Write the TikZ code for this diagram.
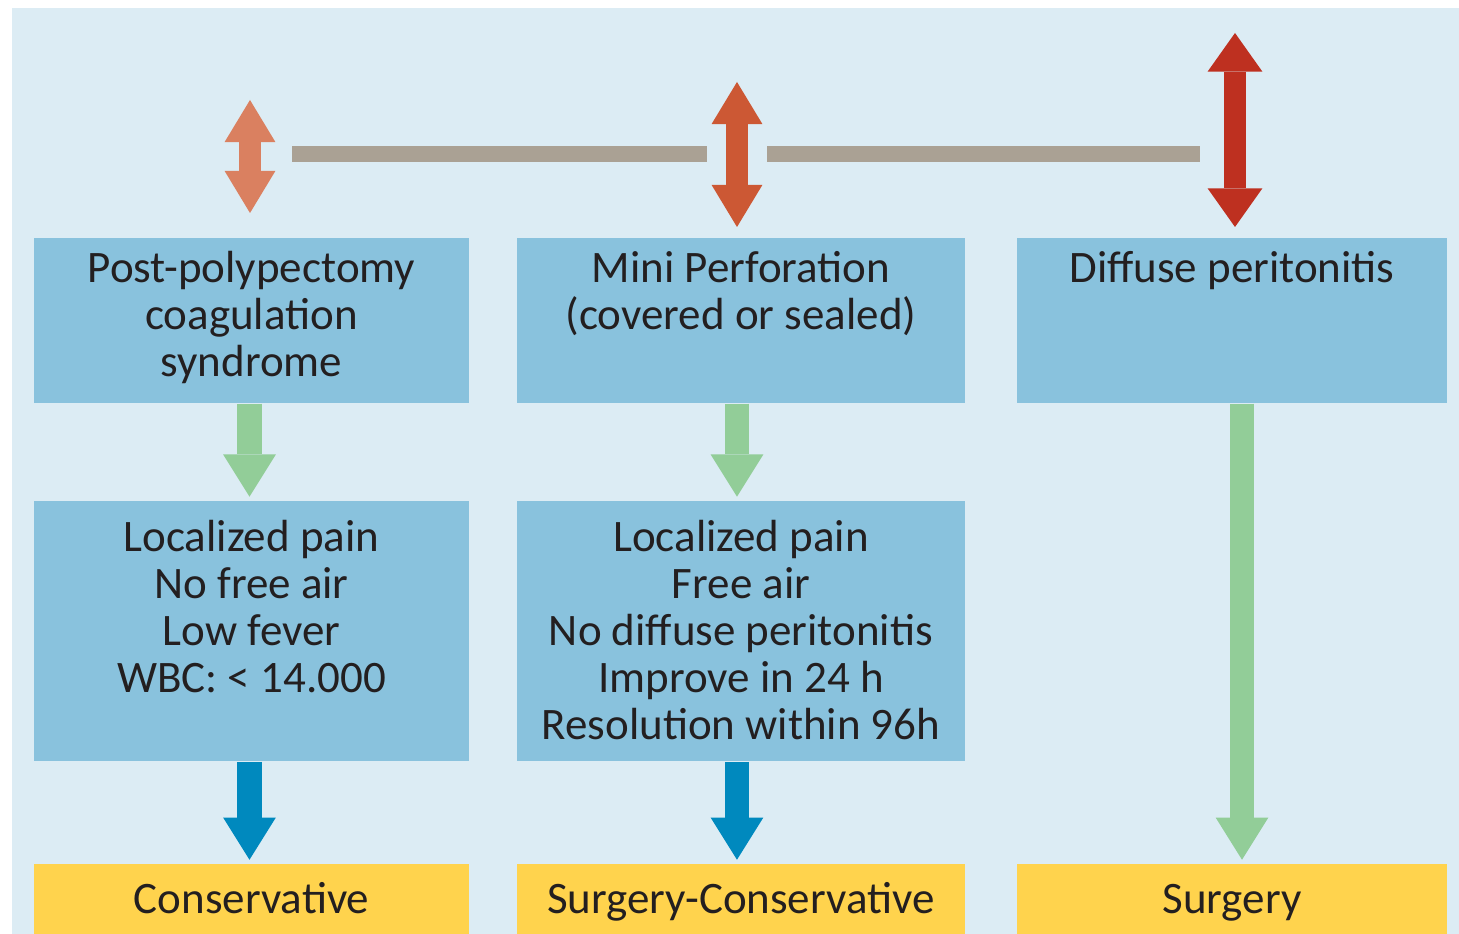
\documentclass[tikz,border=0pt]{standalone}
\usepackage{fontspec}
\setmainfont{Carlito}
\usepackage{xcolor}
\definecolor{bgBlue}{RGB}{220,236,244}
\definecolor{boxBlue}{RGB}{137,194,221}
\definecolor{txYellow}{RGB}{255,211,77}
\definecolor{flowGreen}{RGB}{146,205,152}
\definecolor{flowBlue}{RGB}{0,137,190}
\definecolor{barGray}{RGB}{170,161,148}
\definecolor{sevLow}{RGB}{218,128,96}
\definecolor{sevMid}{RGB}{204,88,52}
\definecolor{sevHigh}{RGB}{190,48,32}
\definecolor{inkDark}{RGB}{35,31,32}
\usepackage{tikz}
\usetikzlibrary{arrows.meta,positioning,calc}
\newcommand{\boxfont}{\fontsize{12.8}{13.4}\selectfont}
\tikzstyle{dxbox}=[fill=boxBlue, minimum height=1.65cm, inner sep=0pt]
\tikzstyle{clbox}=[fill=boxBlue, minimum height=2.6cm, inner sep=0pt]
\tikzstyle{txbox}=[fill=txYellow, minimum height=0.7cm, inner sep=0pt, text height=8.2pt, text depth=0pt, font=\boxfont, text=inkDark]
\tikzstyle{boxtext}=[anchor=north, align=center, inner sep=0pt, font=\boxfont, text=inkDark]
\tikzstyle{flow}=[line width=7pt, shorten >=1pt, -{Triangle[width=15pt,length=12pt,line width=0pt]}]
\tikzstyle{sev}=[line width=6.4pt, {Triangle[width=14.5pt,length=12pt,line width=0pt]}-{Triangle[width=14.5pt,length=12pt,line width=0pt]}]

\begin{document}
\begin{tikzpicture}[x=0.01cm,y=-0.01cm]
  \useasboundingbox (0,0) rectangle (1459,934);
  \fill[bgBlue] (12,8) rectangle (1459,934);

  % diagnosis row
  \node[dxbox, minimum width=4.35cm, label={[boxtext,yshift=-0.13cm]north:{Post-polypectomy\\coagulation\\syndrome}}] (dx1) at (251.5,320.5) {};
  \node[dxbox, minimum width=4.48cm, label={[boxtext,yshift=-0.13cm]north:{Mini Perforation\\(covered or sealed)}}] (dx2) at (741,320.5) {};
  \node[dxbox, minimum width=4.30cm, label={[boxtext,yshift=-0.13cm]north:{Diffuse peritonitis}}] (dx3) at (1232,320.5) {};

  % clinical findings
  \node[clbox, minimum width=4.35cm, label={[boxtext,yshift=-0.19cm]north:{Localized pain\\No free air\\Low fever\\WBC: < 14.000}}] (cl1) at (251.5,631) {};
  \node[clbox, minimum width=4.48cm, label={[boxtext,yshift=-0.19cm]north:{Localized pain\\Free air\\No diffuse peritonitis\\Improve in 24 h\\Resolution within 96h}}] (cl2) at (741,631) {};

  % treatment
  \node[txbox, minimum width=4.35cm] (tx1) at (251.5,899) {Conservative};
  \node[txbox, minimum width=4.48cm] (tx2) at (741,899) {Surgery-Conservative};
  \node[txbox, minimum width=4.30cm] (tx3) at (1232,899) {Surgery};

  % severity scale
  \coordinate (s1a) at (250,100);  \coordinate (s1b) at (250,213);
  \coordinate (s2a) at (737,82);   \coordinate (s2b) at (737,227);
  \coordinate (s3a) at (1235,33);  \coordinate (s3b) at (1235,227);
  \coordinate (b1a) at (292,154);  \coordinate (b1b) at (707,154);
  \coordinate (b2a) at (767,154);  \coordinate (b2b) at (1200,154);
  \draw[barGray, line width=0.16cm] (b1a) -- (b1b);
  \draw[barGray, line width=0.16cm] (b2a) -- (b2b);
  \draw[sev, sevLow] (s1a) -- (s1b);
  \draw[sev, sevMid] (s2a) -- (s2b);
  \draw[sev, sevHigh, {Triangle[width=15.6pt,length=11pt,line width=0pt]}-{Triangle[width=15.6pt,length=11pt,line width=0pt]}] (s3a) -- (s3b);

  % flow arrows
  \draw[flow, flowGreen] ([xshift=-0.02cm]dx1.south) -- ([xshift=-0.02cm]cl1.north);
  \draw[flow, flowGreen] ([xshift=-0.04cm]dx2.south) -- ([xshift=-0.04cm]cl2.north);
  \draw[flow, flowGreen] ([xshift=0.10cm]dx3.south) -- ([xshift=0.10cm]tx3.north);
  \draw[flow, flowBlue] ([xshift=-0.02cm]cl1.south) -- ([xshift=-0.02cm]tx1.north);
  \draw[flow, flowBlue] ([xshift=-0.04cm]cl2.south) -- ([xshift=-0.04cm]tx2.north);
\end{tikzpicture}
\end{document}
